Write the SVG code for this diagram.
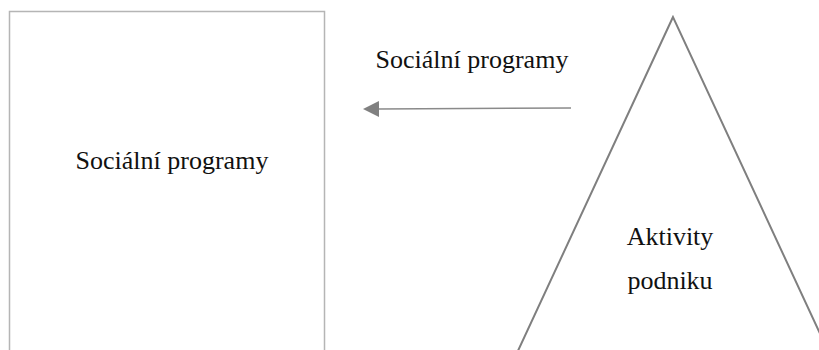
<svg xmlns="http://www.w3.org/2000/svg" width="819" height="350" viewBox="0 0 819 350">
<style>
text{font-family:"Liberation Serif","Times New Roman",serif;font-size:26px;fill:#111;text-anchor:middle}
</style>
<defs>
<marker id="ah" viewBox="0 0 16 16" refX="1" refY="8" markerWidth="16" markerHeight="16" markerUnits="userSpaceOnUse" orient="auto-start-reverse">
<path d="M0,0 L16,8 L0,16 Z" fill="#808080"/>
</marker>
</defs>
<rect width="819" height="350" fill="#fff"/>
<g id="box">
<rect x="9.5" y="11.5" width="315" height="360" fill="none" stroke="#b5b5b5" stroke-width="1.5"/>
<text x="172" y="169">Sociální programy</text>
</g>
<g id="pyramid">
<polygon points="673,17 510,368 836,368" fill="none" stroke="#7f7f7f" stroke-width="2"/>
<text x="670" y="245">Aktivity</text>
<text x="670" y="289">podniku</text>
</g>
<g id="connectors">
<line x1="571" y1="108" x2="378" y2="109" stroke="#8a8a8a" stroke-width="1.5" marker-end="url(#ah)"/>
<text x="472" y="68">Sociální programy</text>
</g>
</svg>
